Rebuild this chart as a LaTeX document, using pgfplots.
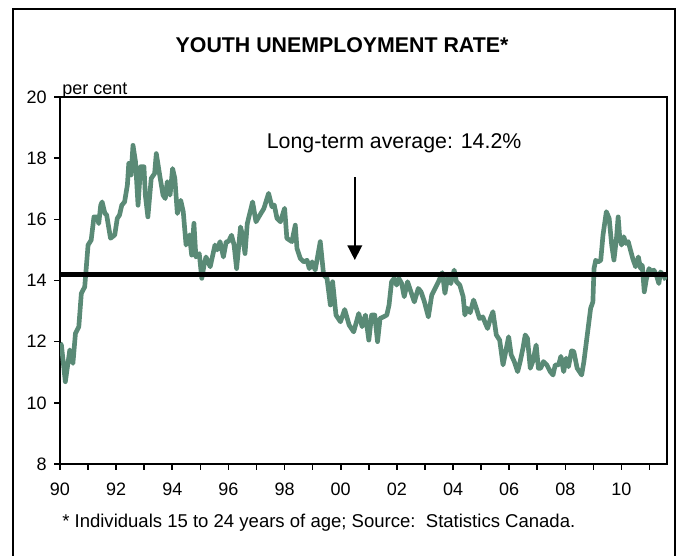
\documentclass[border=0pt]{standalone}
\usepackage{fontspec}
\setmainfont{Liberation Sans}
\usepackage{pgfplots}
\pgfplotsset{compat=1.18}
\usetikzlibrary{arrows.meta}
\definecolor{ser}{RGB}{90,138,118}
\begin{document}
\begin{tikzpicture}
\useasboundingbox (0,0) rectangle (510.75pt,417pt);
\draw[line width=1.8pt] (9.75pt,-15pt) -- (9.75pt,410.25pt) -- (506.25pt,410.25pt) -- (506.25pt,-15pt);
\node[font=\fontsize{16}{19}\selectfont\bfseries] at (256.5pt,383.25pt) {YOUTH UNEMPLOYMENT RATE*};
\node[anchor=base west, inner sep=0pt, font=\fontsize{13.5}{16}\selectfont] at (46.5pt,345.75pt) {per cent};
\node[anchor=west, inner sep=0pt, font=\fontsize{13.9}{16}\selectfont] at (46.5pt,24.75pt) {* Individuals 15 to 24 years of age; Source:\ \ Statistics Canada.};
\begin{axis}[
  at={(45pt,69pt)}, anchor=south west, scale only axis,
  width=455.25pt, height=275.25pt,
  xmin=1990, xmax=2011.62, ymin=8, ymax=20,
  xtick={1990,...,2011},
  xticklabels={90,,92,,94,,96,,98,,00,,02,,04,,06,,08,,10,},
  ytick={8,10,...,20},
  xtick pos=bottom, ytick pos=left,
  tick align=outside,
  major tick length=4.5pt,
  tick style={line width=1.2pt, black},
  axis line style={line width=1.8pt},
  ticklabel style={font=\fontsize{13.5}{16}\selectfont},
  /pgf/number format/assume math mode=true,
  xticklabel style={yshift=-6pt},
  yticklabel style={xshift=-2pt},
]
\addplot[ser, line width=3.5pt, line join=round] coordinates {
(1990.00,11.95) (1990.05,11.89) (1990.19,10.69) (1990.35,11.73) (1990.46,11.29) (1990.55,12.27)
(1990.67,12.49) (1990.76,13.58) (1990.88,13.79) (1991.00,15.16) (1991.11,15.32) (1991.21,16.08)
(1991.33,16.08) (1991.38,15.86) (1991.45,16.46) (1991.50,16.57) (1991.60,16.19) (1991.66,16.15)
(1991.80,15.38) (1991.95,15.49) (1992.04,16.03) (1992.12,16.14) (1992.20,16.46) (1992.30,16.57)
(1992.40,17.12) (1992.45,17.83) (1992.53,17.45) (1992.60,18.42) (1992.69,17.88) (1992.78,16.46)
(1992.87,17.72) (1992.99,17.72) (1993.04,16.79) (1993.13,16.08) (1993.25,17.34) (1993.37,17.50)
(1993.43,18.15) (1993.55,17.45) (1993.67,16.79) (1993.75,16.68) (1993.82,17.23) (1993.92,16.79)
(1994.01,17.66) (1994.09,17.34) (1994.18,16.19) (1994.30,16.62) (1994.39,16.25) (1994.49,15.16)
(1994.61,15.49) (1994.69,14.83) (1994.77,15.87) (1994.84,14.77) (1994.96,14.88) (1995.05,14.07)
(1995.13,14.50) (1995.20,14.77) (1995.35,14.45) (1995.52,15.16) (1995.60,15.00) (1995.70,15.27)
(1995.82,14.77) (1995.92,15.27) (1996.00,15.27) (1996.11,15.48) (1996.20,15.16) (1996.29,14.39)
(1996.43,15.75) (1996.50,15.48) (1996.59,14.88) (1996.67,15.86) (1996.86,16.57) (1996.98,15.92)
(1997.12,16.14) (1997.26,16.35) (1997.43,16.85) (1997.55,16.41) (1997.63,16.47) (1997.73,16.03)
(1997.85,15.92) (1998.00,16.36) (1998.08,15.38) (1998.26,15.27) (1998.38,15.81) (1998.44,15.05)
(1998.56,14.72) (1998.68,14.61) (1998.80,14.66) (1998.88,14.39) (1998.98,14.61) (1999.09,14.34)
(1999.27,15.27) (1999.39,14.18) (1999.51,14.07) (1999.63,13.20) (1999.71,13.96) (1999.83,12.87)
(1999.99,12.65) (2000.14,13.05) (2000.30,12.54) (2000.46,12.32) (2000.64,12.92) (2000.76,12.49)
(2000.88,12.87) (2001.00,12.05) (2001.10,12.87) (2001.21,12.87) (2001.31,12.00) (2001.40,12.76)
(2001.52,12.81) (2001.64,12.87) (2001.72,13.20) (2001.81,13.96) (2001.90,14.07) (2001.99,13.85)
(2002.07,14.07) (2002.17,13.90) (2002.26,13.47) (2002.38,13.96) (2002.50,13.63) (2002.62,13.30)
(2002.76,13.74) (2002.86,13.63) (2002.98,13.30) (2003.12,12.81) (2003.24,13.52) (2003.36,13.74)
(2003.48,13.96) (2003.62,14.26) (2003.71,13.58) (2003.80,14.07) (2003.92,13.90) (2004.04,14.34)
(2004.12,13.96) (2004.24,13.85) (2004.36,13.47) (2004.42,12.87) (2004.49,13.10) (2004.61,12.95)
(2004.73,13.36) (2004.83,13.09) (2004.94,12.76) (2005.06,12.81) (2005.15,12.60) (2005.23,12.43)
(2005.33,12.76) (2005.42,12.98) (2005.54,12.22) (2005.66,12.05) (2005.78,11.24) (2005.90,11.79)
(2005.98,12.16) (2006.07,11.57) (2006.18,11.35) (2006.30,11.02) (2006.39,11.35) (2006.49,11.79)
(2006.57,12.22) (2006.65,12.11) (2006.75,11.13) (2006.84,11.35) (2006.96,11.89) (2007.04,11.13)
(2007.12,11.13) (2007.22,11.35) (2007.34,11.24) (2007.46,11.02) (2007.56,10.91) (2007.64,11.24)
(2007.76,11.24) (2007.84,11.52) (2007.94,11.02) (2008.03,11.46) (2008.11,11.18) (2008.22,11.70)
(2008.30,11.68) (2008.42,11.13) (2008.58,10.91) (2008.66,11.35) (2008.78,12.22) (2008.90,13.09)
(2008.98,13.30) (2009.02,14.39) (2009.08,14.66) (2009.17,14.61) (2009.26,14.66) (2009.34,15.48)
(2009.46,16.25) (2009.56,16.03) (2009.65,15.16) (2009.73,14.67) (2009.82,15.38) (2009.88,16.08)
(2009.93,15.48) (2010.00,15.16) (2010.08,15.43) (2010.16,15.21) (2010.24,15.27) (2010.32,14.99)
(2010.40,14.72) (2010.50,14.45) (2010.60,14.77) (2010.68,14.39) (2010.74,14.50) (2010.81,13.63)
(2010.88,14.02) (2010.98,14.39) (2011.07,14.28) (2011.15,14.34) (2011.24,14.18) (2011.33,13.90)
(2011.39,14.28) (2011.48,14.18) (2011.58,14.02)
};
\addplot[black, line width=3.2pt] coordinates {(1990,14.2) (2011.62,14.2)};
\draw[line width=1.2pt, -{Triangle[width=11pt,length=11pt]}] (axis cs:2000.5,17.38) -- (axis cs:2000.5,14.67);
\node[font=\fontsize{16}{19}\selectfont] at (axis cs:2001.9,18.49) {Long-term average: 14.2\%};
\end{axis}
\end{tikzpicture}
\end{document}
